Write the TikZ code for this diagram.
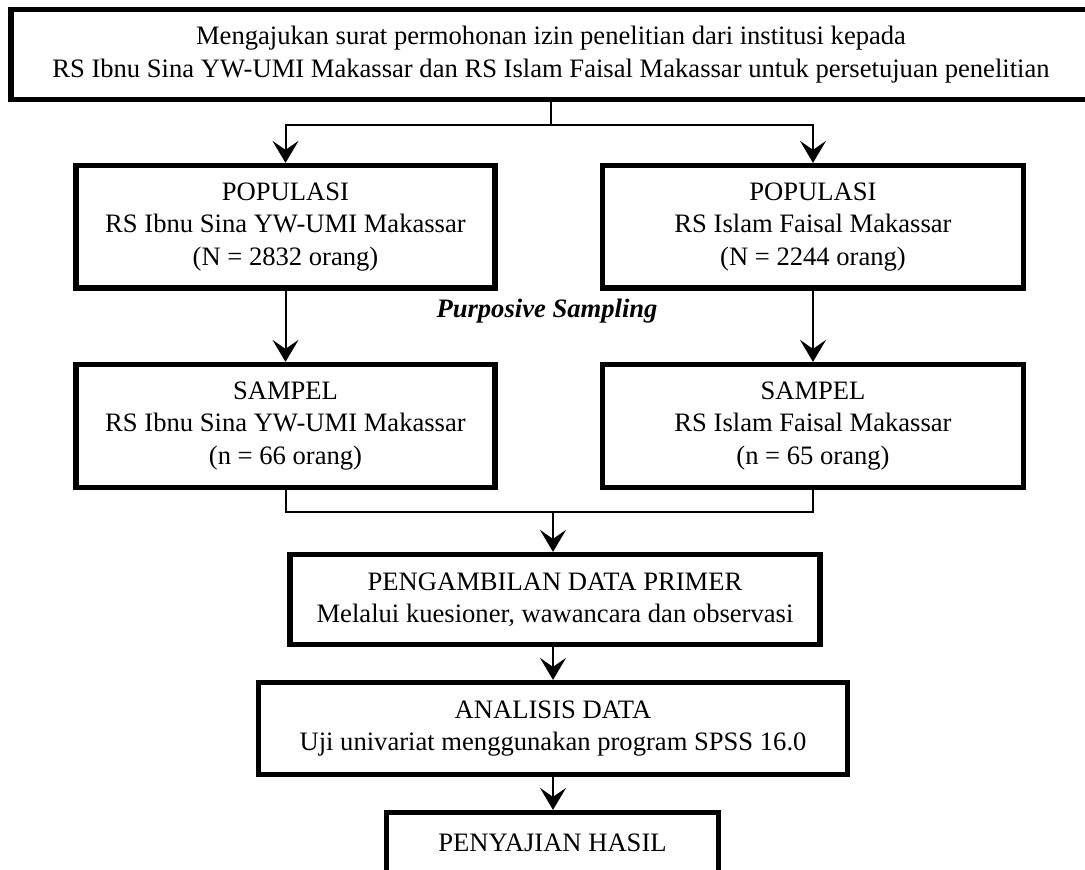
\documentclass[tikz,border=0pt]{standalone}
\usepackage{fontspec}
\setmainfont{Liberation Serif}
\usetikzlibrary{arrows.meta}

\begin{document}
\begin{tikzpicture}[x=0.5pt,y=-0.5pt,
    box/.style={draw,line width=2.6pt,align=center,inner sep=0pt,
        font=\fontsize{13.3}{16.2}\selectfont},
    arr/.style={-{Stealth[length=11pt,width=13pt,inset=4.5pt]},line width=1pt}]
    \useasboundingbox (0,0) rectangle (1085,870);

    % Boxes
    \node[box,minimum width=540pt,minimum height=45pt] (izin) at (551,54.5)
        {Mengajukan surat permohonan izin penelitian dari institusi kepada\\
        RS Ibnu Sina YW-UMI Makassar dan RS Islam Faisal Makassar untuk persetujuan penelitian};
    \node[box,minimum width=209.5pt,minimum height=61.25pt] (popL) at (285.5,226.75)
        {POPULASI\\ RS Ibnu Sina YW-UMI Makassar\\ (N = 2832 orang)};
    \node[box,minimum width=210.5pt,minimum height=61.25pt] (popR) at (813,226.75)
        {POPULASI\\ RS Islam Faisal Makassar\\ (N = 2244 orang)};
    \node[box,minimum width=209.5pt,minimum height=61.5pt] (samL) at (285.5,426)
        {SAMPEL\\ RS Ibnu Sina YW-UMI Makassar\\ (n = 66 orang)};
    \node[box,minimum width=210.5pt,minimum height=61.5pt] (samR) at (813,426)
        {SAMPEL\\ RS Islam Faisal Makassar\\ (n = 65 orang)};
    \node[box,minimum width=265pt,minimum height=45pt] (data) at (555,599.5)
        {PENGAMBILAN DATA PRIMER\\ Melalui kuesioner, wawancara dan observasi};
    \node[box,minimum width=294.5pt,minimum height=46pt] (analisis) at (553,728.5)
        {ANALISIS DATA\\ Uji univariat menggunakan program SPSS 16.0};
    \node[box,minimum width=166pt,minimum height=30.5pt] (hasil) at (552.5,843)
        {PENYAJIAN HASIL};

    \node[anchor=base,font=\fontsize{13.3}{16.2}\selectfont\bfseries\itshape] (purp) at (547,318)
        {Purposive Sampling};

    % Connectors
    \coordinate (split) at (551,125);
    \coordinate (join) at (553,512);
    \draw[line width=1pt] (izin.south) -- (split);
    \draw[arr] (split) -| (popL.north);
    \draw[arr] (split) -| (popR.north);
    \draw[arr] (popL.south) -- (samL.north);
    \draw[arr] (popR.south) -- (samR.north);
    \draw[line width=1pt] (samL.south) |- (join) -| (samR.south);
    \draw[arr] (join) -- (join |- data.north);
    \draw[arr] (data.south -| join) -- (join |- analisis.north);
    \draw[arr] (analisis.south -| join) -- (join |- hasil.north);
\end{tikzpicture}
\end{document}
